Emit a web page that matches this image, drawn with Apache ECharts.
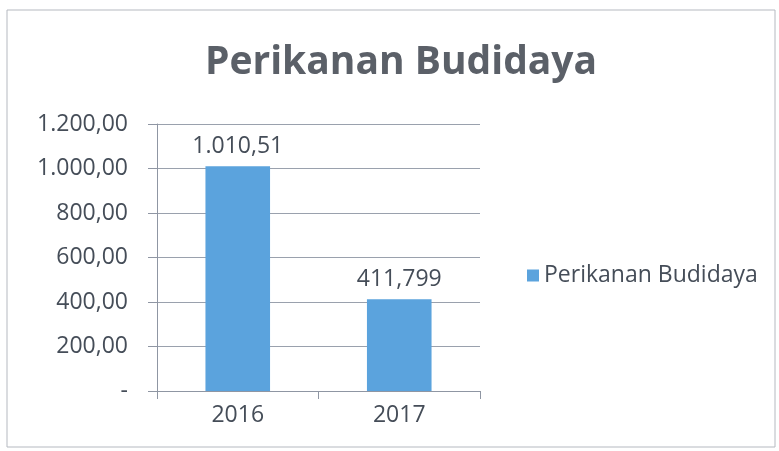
<!DOCTYPE html>
<html>
<head>
<meta charset="utf-8">
<script src="https://cdn.jsdelivr.net/npm/echarts@6/dist/echarts.min.js"></script>
<style>
  html, body { margin: 0; padding: 0; background: #fff; }
  #main { width: 779px; height: 451px; }
</style>
</head>
<body>
<div id="main"></div>
<script type="text/javascript">
    // data
    var tahun = ['2016', '2017'];
    var nilai = [1010.51, 411.799];
    var labelNilai = ['1.010,51', '411,799'];
    var namaSeri = 'Perikanan Budidaya';

    var textColor = '#454d58';
    var fontFam = '"Open Sans", "Noto Sans", sans-serif';

    // format 1200 -> 1.200,00 , 0 -> -
    function fmtAxis(v) {
        if (v === 0) return '-';
        var s = v.toFixed(2).split('.');
        var ribuan = s[0].replace(/\B(?=(\d{3})+(?!\d))/g, '.');
        return ribuan + ',' + s[1];
    }

    var myChart = echarts.init(document.getElementById('main'));
    var option = {
        animation: false,
        title: {
            text: 'Perikanan Budidaya',
            left: 396,
            textAlign: 'center',
            top: 38,
            textStyle: { color: '#5b6068', fontSize: 39, fontWeight: 'bold', fontFamily: fontFam }
        },
        legend: {
            data: [namaSeri],
            left: 522,
            top: 259,
            itemWidth: 12,
            itemHeight: 12,
            itemGap: 8,
            icon: 'rect',
            textStyle: { color: textColor, fontSize: 23, fontFamily: fontFam }
        },
        grid: { left: 157, right: 299, top: 124, bottom: 60 },
        xAxis: {
            type: 'category',
            data: tahun,
            axisLine: { lineStyle: { color: '#8f96a3', width: 1 } },
            axisTick: { show: true, length: 8, lineStyle: { color: '#8f96a3' } },
            axisLabel: { color: textColor, fontSize: 23, fontFamily: fontFam, margin: 13 }
        },
        yAxis: {
            type: 'value',
            min: 0,
            max: 1200,
            interval: 200,
            axisLine: { show: true, lineStyle: { color: '#8f96a3', width: 1 } },
            axisTick: { show: true, length: 9, lineStyle: { color: '#8f96a3' } },
            splitLine: { lineStyle: { color: '#9aa1ad', width: 1 } },
            axisLabel: { color: textColor, fontSize: 23, fontFamily: fontFam, margin: 29, formatter: fmtAxis }
        },
        series: [{
            name: namaSeri,
            type: 'bar',
            data: nilai,
            barWidth: '40%',
            itemStyle: { color: '#5ba3dd' },
            label: {
                show: true,
                position: 'top',
                distance: 8,
                color: textColor,
                fontSize: 23,
                fontFamily: fontFam,
                formatter: function (p) { return labelNilai[p.dataIndex]; }
            }
        }],
        graphic: [{
            type: 'rect',
            shape: { x: 7, y: 10, width: 768, height: 437 },
            style: { fill: 'none', stroke: '#b5b9c0', lineWidth: 1 },
            silent: true
        }]
    };
    myChart.setOption(option);
</script>
</body>
</html>
